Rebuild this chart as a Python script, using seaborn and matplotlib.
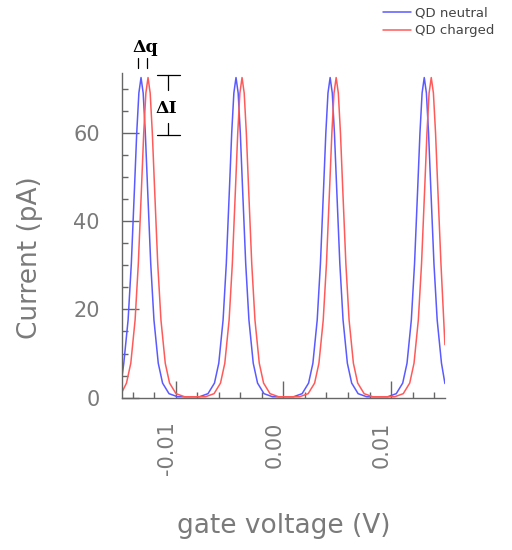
import numpy as np
import pandas as pd
import seaborn as sns
import matplotlib
matplotlib.use("Agg")
import matplotlib.pyplot as plt
from matplotlib.ticker import MultipleLocator
from matplotlib.transforms import ScaledTranslation

# gate voltage in mV, current in pA
neutral_mv = [-15.00, -14.82, -14.42, -14.12, -13.82, -13.62, -13.42, -13.22, -13.02, -12.82, -12.62,
              -12.32, -12.02, -11.62, -11.22, -10.62, -9.82,
              -7.80, -7.00, -6.40, -6.00, -5.60, -5.30, -5.00, -4.80, -4.60, -4.40, -4.20, -4.00,
              -3.80, -3.50, -3.20, -2.80, -2.40, -1.80, -1.00,
              0.94, 1.74, 2.34, 2.74, 3.14, 3.44, 3.74, 3.94, 4.14, 4.34, 4.54, 4.74,
              4.94, 5.24, 5.54, 5.94, 6.34, 6.94, 7.74,
              9.68, 10.48, 11.08, 11.48, 11.88, 12.18, 12.48, 12.68, 12.88, 13.08, 13.28, 13.48,
              13.68, 13.98, 14.28, 14.68, 15.00]
neutral_pa = [4.5, 7.8, 17.6, 30.4, 47.9, 59.9, 69.0, 72.5, 69.0, 59.9, 47.9,
              30.4, 17.6, 7.8, 3.3, 0.9, 0.2,
              0.2, 0.9, 3.3, 7.8, 17.6, 30.4, 47.9, 59.9, 69.0, 72.5, 69.0, 59.9,
              47.9, 30.4, 17.6, 7.8, 3.3, 0.9, 0.2,
              0.2, 0.9, 3.3, 7.8, 17.6, 30.4, 47.9, 59.9, 69.0, 72.5, 69.0, 59.9,
              47.9, 30.4, 17.6, 7.8, 3.3, 0.9, 0.2,
              0.2, 0.9, 3.3, 7.8, 17.6, 30.4, 47.9, 59.9, 69.0, 72.5, 69.0, 59.9,
              47.9, 30.4, 17.6, 7.8, 3.2]

charged_mv = [-15.00, -14.57, -14.17, -13.77, -13.47, -13.17, -12.97, -12.77, -12.57, -12.37, -12.17,
              -11.97, -11.67, -11.37, -10.97, -10.57, -9.97, -9.17,
              -7.24, -6.44, -5.84, -5.44, -5.04, -4.74, -4.44, -4.24, -4.04, -3.84, -3.64, -3.44,
              -3.24, -2.94, -2.64, -2.24, -1.84, -1.24, -0.44,
              1.50, 2.30, 2.90, 3.30, 3.70, 4.00, 4.30, 4.50, 4.70, 4.90, 5.10, 5.30,
              5.50, 5.80, 6.10, 6.50, 6.90, 7.50, 8.30,
              10.33, 11.13, 11.73, 12.13, 12.53, 12.83, 13.13, 13.33, 13.53, 13.73, 13.93, 14.13,
              14.33, 14.63, 15.00]
charged_pa = [1.2, 3.3, 7.8, 17.6, 30.4, 47.9, 59.9, 69.0, 72.5, 69.0, 59.9,
              47.9, 30.4, 17.6, 7.8, 3.3, 0.9, 0.2,
              0.2, 0.9, 3.3, 7.8, 17.6, 30.4, 47.9, 59.9, 69.0, 72.5, 69.0, 59.9,
              47.9, 30.4, 17.6, 7.8, 3.3, 0.9, 0.2,
              0.2, 0.9, 3.3, 7.8, 17.6, 30.4, 47.9, 59.9, 69.0, 72.5, 69.0, 59.9,
              47.9, 30.4, 17.6, 7.8, 3.3, 0.9, 0.2,
              0.2, 0.9, 3.3, 7.8, 17.6, 30.4, 47.9, 59.9, 69.0, 72.5, 69.0, 59.9,
              47.9, 30.4, 12.0]

x_ticks = [-0.01, 0.00, 0.01]
x_ticklabels = ["-0.01", "0.00", "0.01"]
y_ticks = [0, 20, 40, 60]

blue = "#5a5aff"
red = "#ff5a5a"
grey = "#7a7a7a"

neutral = pd.DataFrame({"v": np.array(neutral_mv) * 1e-3, "i": neutral_pa})
charged = pd.DataFrame({"v": np.array(charged_mv) * 1e-3, "i": charged_pa})

sns.set_style("ticks")
plt.rcParams["font.family"] = ["DejaVu Sans"]

fig = plt.figure(figsize=(5.12, 5.5), dpi=100)
ax = fig.add_axes([0.238, 0.277, 0.631, 0.590])

sns.lineplot(data=neutral, x="v", y="i", sort=False, estimator=None, color=blue,
             lw=1.1, label="QD neutral", ax=ax)
sns.lineplot(data=charged, x="v", y="i", sort=False, estimator=None, color=red,
             lw=1.1, label="QD charged", ax=ax)

ax.set_xlim(-0.0150, 0.0150)
ax.set_ylim(0, 73.5)
sns.despine(ax=ax)
for s in ["left", "bottom"]:
    ax.spines[s].set_color("#666666")
    ax.spines[s].set_linewidth(1.0)

ax.set_xticks(x_ticks)
ax.set_xticklabels(x_ticklabels, rotation=90)
ax.set_yticks(y_ticks)
ax.xaxis.set_minor_locator(MultipleLocator(0.002))
ax.yaxis.set_minor_locator(MultipleLocator(5))
ax.tick_params(which="both", bottom=True, left=True, top=False, right=False)
ax.tick_params(which="major", direction="in", length=12, width=1, color="#666666",
               labelsize=15, labelcolor=grey)
ax.tick_params(which="minor", direction="in", length=4, width=1, color="#666666")
ax.tick_params(axis="x", which="major", pad=17)
ax.tick_params(axis="y", which="major", pad=16)
for lab in ax.get_xticklabels():
    lab.set_transform(lab.get_transform() + ScaledTranslation(-9 / 100, 0, fig.dpi_scale_trans))

ax.set_xlabel("gate voltage (V)", fontsize=19, color=grey)
ax.set_ylabel("Current (pA)", fontsize=19, color=grey)
ax.xaxis.set_label_coords(0.5, -0.356)
ax.yaxis.set_label_coords(-0.245, 0.433)

leg = ax.legend(loc="upper left", bbox_to_anchor=(0.748, 0.988), bbox_transform=fig.transFigure,
                frameon=False, fontsize=9.5, handlelength=2.1, handletextpad=0.3,
                labelspacing=0.35, borderpad=0, borderaxespad=0)
for t in leg.get_texts():
    t.set_color("#444444")

# delta annotations
bold = dict(family="DejaVu Serif", weight="bold", fontsize=12.5, color="black",
            ha="center", va="center")
ax.text(-0.01281, 79.2, "Δq", clip_on=False, **bold)
for xm in [-0.01348, -0.01270]:
    ax.plot([xm, xm], [74.7, 76.9], color="black", lw=0.9, clip_on=False)
ax.text(-0.01090, 65.6, "ΔI", clip_on=False, **bold)
for yb in [73.0, 59.4]:
    ax.plot([-0.01177, -0.00960], [yb, yb], color="black", lw=0.9, clip_on=False)
ax.plot([-0.01069, -0.01069], [73.0, 69.6], color="black", lw=0.9, clip_on=False)
ax.plot([-0.01069, -0.01069], [62.3, 59.4], color="black", lw=0.9, clip_on=False)

fig.savefig("out.png", dpi=100)
